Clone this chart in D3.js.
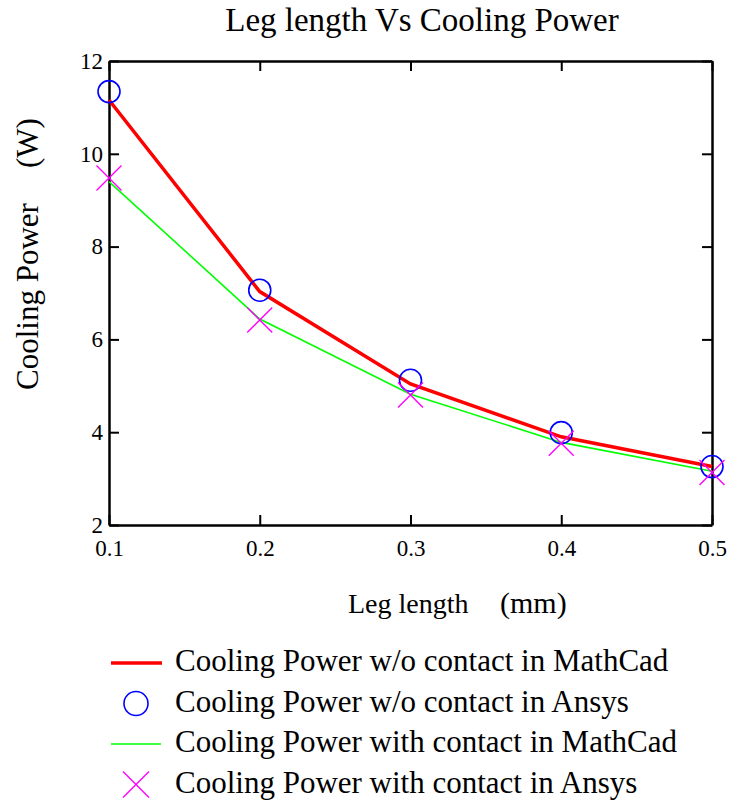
<!DOCTYPE html>
<html>
<head>
<meta charset="utf-8">
<script src="https://cdn.jsdelivr.net/npm/d3@7"></script>
<style>
  body { margin: 0; background: #fff; }
  svg text { font-family: "Liberation Serif", "Times New Roman", serif; fill: #000; }
</style>
</head>
<body>
<svg id="chart"></svg>
<script>
const legLength = [0.1, 0.2, 0.3, 0.4, 0.5];
const mathcadNoContact = [11.16, 7.03, 5.04, 3.90, 3.26];
const ansysNoContact = [11.34, 7.06, 5.12, 3.99, 3.26];
const mathcadContact = [9.40, 6.44, 4.82, 3.78, 3.16];
const ansysContact = [9.48, 6.42, 4.80, 3.76, 3.13];
const xTicks = [0.1, 0.2, 0.3, 0.4, 0.5];
const yTicks = [2, 4, 6, 8, 10, 12];
const legendLabels = [
    "Cooling Power w/o contact in MathCad",
    "Cooling Power w/o contact in Ansys",
    "Cooling Power with contact in MathCad",
    "Cooling Power with contact in Ansys"
];

const width = 734;
const height = 802;
const marginTop = 61;
const marginRight = 22;
const marginBottom = 277;
const marginLeft = 109;

const x = d3.scaleLinear()
    .domain([0.1, 0.5])
    .range([marginLeft, width - marginRight]);

const y = d3.scaleLinear()
    .domain([2, 12])
    .range([height - marginBottom, marginTop]);

const svg = d3.select("#chart")
    .attr("width", width)
    .attr("height", height);

// frame with inward ticks
const tickLen = 10;
svg.append("g")
    .attr("transform", `translate(0,${height - marginBottom})`)
    .call(d3.axisBottom(x).tickValues(xTicks).tickSizeInner(-tickLen).tickSizeOuter(0).tickPadding(15)
        .tickFormat(d3.format(".1f")))
    .call(g => g.selectAll("text").attr("font-size", 23).attr("font-family", "Liberation Serif"))
    .call(g => g.selectAll(".tick line").attr("stroke-width", 2))
    .call(g => g.select(".domain").attr("stroke-width", 2.5));

svg.append("g")
    .attr("transform", `translate(0,${marginTop})`)
    .call(d3.axisTop(x).tickValues(xTicks).tickSizeInner(-tickLen).tickSizeOuter(0).tickFormat(""))
    .call(g => g.selectAll(".tick line").attr("stroke-width", 2))
    .call(g => g.select(".domain").attr("stroke-width", 2.5));

svg.append("g")
    .attr("transform", `translate(${marginLeft},0)`)
    .call(d3.axisLeft(y).tickValues(yTicks).tickSizeInner(-tickLen).tickSizeOuter(0).tickPadding(6))
    .call(g => g.selectAll("text").attr("font-size", 23).attr("font-family", "Liberation Serif"))
    .call(g => g.selectAll(".tick line").attr("stroke-width", 2))
    .call(g => g.select(".domain").attr("stroke-width", 2.5));

svg.append("g")
    .attr("transform", `translate(${width - marginRight},0)`)
    .call(d3.axisRight(y).tickValues(yTicks).tickSizeInner(-tickLen).tickSizeOuter(0).tickFormat(""))
    .call(g => g.selectAll(".tick line").attr("stroke-width", 2))
    .call(g => g.select(".domain").attr("stroke-width", 2.5));

// title and axis titles
svg.append("text")
    .attr("x", 422).attr("y", 31)
    .attr("text-anchor", "middle")
    .attr("font-size", 33)
    .text("Leg length Vs Cooling Power");

svg.append("text")
    .attr("transform", "translate(38,390) rotate(-90)")
    .attr("font-size", 31)
    .text("Cooling Power");
svg.append("text")
    .attr("transform", "translate(38,168) rotate(-90)")
    .attr("font-size", 31)
    .text("(W)");

svg.append("text")
    .attr("x", 348).attr("y", 613)
    .attr("font-size", 28)
    .text("Leg length");
svg.append("text")
    .attr("x", 500).attr("y", 613)
    .attr("font-size", 30)
    .text("(mm)");

// series
const line = d3.line()
    .x((d, i) => x(legLength[i]))
    .y(d => y(d));

svg.append("path")
    .datum(mathcadContact)
    .attr("fill", "none")
    .attr("stroke", "#00ff00")
    .attr("stroke-width", 1.6)
    .attr("d", line);

svg.append("path")
    .datum(mathcadNoContact)
    .attr("fill", "none")
    .attr("stroke", "#ff0000")
    .attr("stroke-width", 3.5)
    .attr("d", line);

svg.append("g")
    .selectAll("circle")
    .data(ansysNoContact)
    .join("circle")
    .attr("cx", (d, i) => x(legLength[i]))
    .attr("cy", d => y(d))
    .attr("r", 11)
    .attr("fill", "none")
    .attr("stroke", "#0000ff")
    .attr("stroke-width", 1.6);

svg.append("g")
    .selectAll("path")
    .data(ansysContact)
    .join("path")
    .attr("transform", (d, i) => `translate(${x(legLength[i])},${y(d)})`)
    .attr("d", d3.symbol().type({
        draw(ctx) {
            const s = 12.5;
            ctx.moveTo(-s, -s); ctx.lineTo(s, s);
            ctx.moveTo(-s, s); ctx.lineTo(s, -s);
        }
    }))
    .attr("fill", "none")
    .attr("stroke", "#ff00ff")
    .attr("stroke-width", 1.4);

// legend
const legendTop = 663;
const rowStep = 40.5;
const legend = svg.append("g");

legend.append("line")
    .attr("x1", 111).attr("x2", 162)
    .attr("y1", legendTop).attr("y2", legendTop)
    .attr("stroke", "#ff0000").attr("stroke-width", 3.5);

legend.append("circle")
    .attr("cx", 136).attr("cy", legendTop + rowStep)
    .attr("r", 12)
    .attr("fill", "none").attr("stroke", "#0000ff").attr("stroke-width", 1.6);

legend.append("line")
    .attr("x1", 111).attr("x2", 161)
    .attr("y1", legendTop + rowStep * 2).attr("y2", legendTop + rowStep * 2)
    .attr("stroke", "#00ff00").attr("stroke-width", 1.6);

legend.append("path")
    .attr("d", `M${123},${legendTop + rowStep * 3 - 13}L${149},${legendTop + rowStep * 3 + 13}M${123},${legendTop + rowStep * 3 + 13}L${149},${legendTop + rowStep * 3 - 13}`)
    .attr("fill", "none").attr("stroke", "#ff00ff").attr("stroke-width", 1.4);

legend.selectAll("text")
    .data(legendLabels)
    .join("text")
    .attr("x", 175)
    .attr("y", (d, i) => legendTop + rowStep * i + 8)
    .attr("font-size", 31)
    .text(d => d);
</script>
</body>
</html>
